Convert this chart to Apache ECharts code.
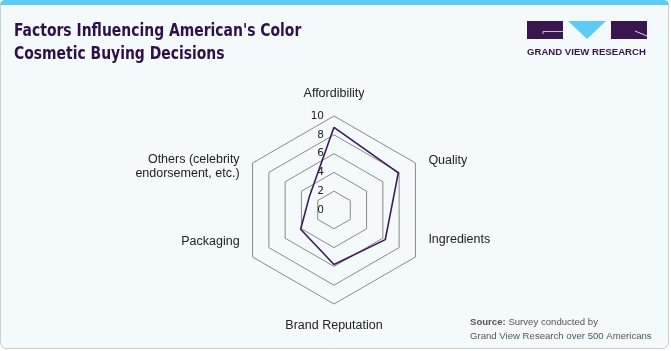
<!DOCTYPE html>
<html>
<head>
<meta charset="utf-8">
<script src="https://cdn.jsdelivr.net/npm/echarts@6/dist/echarts.min.js"></script>
<style>
  html, body { margin: 0; padding: 0; background: #ffffff; }
  #chart { width: 671px; height: 351px; }
</style>
</head>
<body>
<div id="chart"></div>
<script>
// factors, listed counterclockwise from the top
const factors = [
  "Affordibility",
  "Others (celebrity\nendorsement, etc.)",
  "Packaging",
  "Brand Reputation",
  "Ingredients",
  "Quality"
];
const scores = [8.8, 3.0, 4.1, 5.8, 6.3, 7.9];
const axisMax = 10;

// vertical nudges of the axis names: spacer line above (+) or below (-)
const nameNudge = {
  "Others (celebrity\nendorsement, etc.)": 22,
  "Quality": 11,
  "Packaging": -46,
  "Ingredients": -50
};

const purple = "#2e1048";
const chart = echarts.init(document.getElementById("chart"));

const indicator = factors.map(function (name, i) {
  const item = { name: name, max: axisMax, min: 0 };
  if (i === 0) {
    item.axisLabel = { show: true };
  }
  return item;
});

const spacerRich = {};
Object.keys(nameNudge).forEach(function (k) {
  const h = Math.abs(nameNudge[k]);
  spacerRich["s" + h] = { height: h, lineHeight: h, fontSize: 1 };
});

chart.setOption({
  backgroundColor: "#ffffff",
  graphic: [
    // card
    {
      type: "rect",
      shape: { x: 0.5, y: 0.5, width: 668, height: 348, r: 6 },
      style: { fill: "#f4f9fc", stroke: "#c9cdd1", lineWidth: 1 },
      z: -10
    },
    {
      type: "rect",
      shape: { x: 0, y: 0, width: 669, height: 5, r: [5, 5, 0, 0] },
      style: { fill: "#5ecbf4" },
      z: -9
    },
    // title
    {
      type: "text",
      x: 14,
      y: 20,
      scaleX: 0.86,
      style: {
        text: "Factors Influencing American's Color\nCosmetic Buying Decisions",
        font: "bold 18px 'DejaVu Sans Condensed', sans-serif",
        fill: purple,
        lineHeight: 23
      }
    },
    // logo
    {
      type: "rect",
      shape: { x: 527, y: 21, width: 36, height: 18 },
      style: { fill: "#3a1650" }
    },
    {
      type: "polyline",
      shape: { points: [[543, 34], [543, 31.5], [563, 31.5]] },
      style: { stroke: "#c8c0d0", lineWidth: 1, fill: null }
    },
    {
      type: "polygon",
      shape: { points: [[568, 21], [606, 21], [587, 39]] },
      style: { fill: "#5ecbf4" }
    },
    {
      type: "rect",
      shape: { x: 611, y: 21, width: 36, height: 18 },
      style: { fill: "#3a1650" }
    },
    {
      type: "line",
      shape: { x1: 635, y1: 31, x2: 647, y2: 36 },
      style: { stroke: "#d8d0e0", lineWidth: 1 }
    },
    {
      type: "text",
      x: 527,
      y: 47,
      style: {
        text: "GRAND VIEW RESEARCH",
        font: "bold 9.6px 'Liberation Sans', Arial, sans-serif",
        fill: "#3a1650"
      }
    },
    // source
    {
      type: "text",
      x: 470,
      y: 315,
      style: {
        text: "{b|Source:} Survey conducted by\nGrand View Research over 500 Americans",
        font: "9.6px 'Liberation Sans', Arial, sans-serif",
        fill: "#555555",
        lineHeight: 14,
        rich: {
          b: { fontWeight: "bold", fontSize: 9.6, fontFamily: "'Liberation Sans', Arial, sans-serif", fill: "#555555" }
        }
      }
    }
  ],
  radar: {
    center: [334, 210],
    radius: 94,
    startAngle: 90,
    splitNumber: 5,
    shape: "polygon",
    indicator: indicator,
    axisName: {
      color: "#222222",
      fontSize: 12.5,
      fontFamily: "'Liberation Sans', Arial, sans-serif",
      lineHeight: 14,
      formatter: function (name) {
        const n = nameNudge[name];
        if (!n) return name;
        const spacer = "{s" + Math.abs(n) + "| }";
        return n > 0 ? spacer + "\n" + name : name + "\n" + spacer;
      },
      rich: spacerRich
    },
    nameGap: 15,
    axisLine: { show: false },
    axisTick: { show: false },
    axisLabel: {
      show: false,
      color: "#222222",
      fontSize: 10.5,
      fontFamily: "'DejaVu Sans', sans-serif",
      margin: 10
    },
    splitLine: { lineStyle: { color: "#8a8a8a", width: 1 } },
    splitArea: { show: false }
  },
  series: [
    {
      type: "radar",
      symbol: "none",
      lineStyle: { color: "#3d1a58", width: 1.6 },
      data: [{ value: scores, name: "Score" }]
    }
  ]
});
</script>
</body>
</html>
